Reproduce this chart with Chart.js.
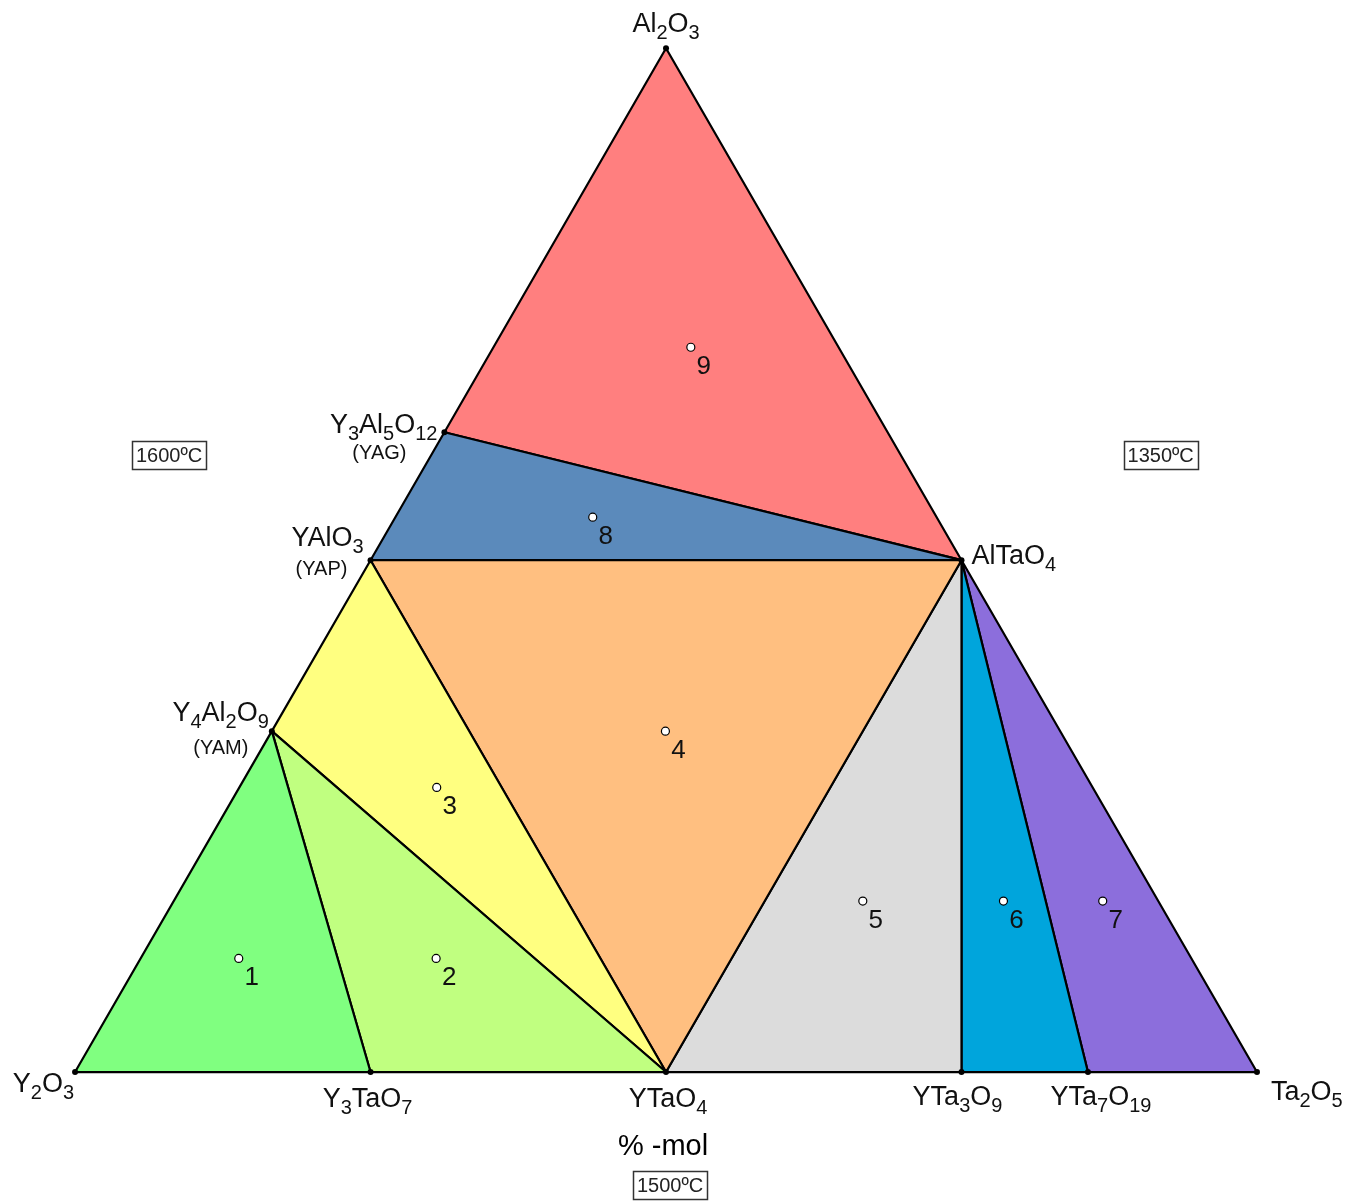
<!DOCTYPE html>
<html>
<head>
<meta charset="utf-8">
<title>Diagrama Y2O3 - Al2O3 - Ta2O5</title>
<script src="https://cdn.jsdelivr.net/npm/chart.js@4/dist/chart.umd.min.js"></script>
<style>
  html, body { margin: 0; padding: 0; background: #fff; }
  canvas { display: block; }
</style>
</head>
<body>
<canvas id="ternario" width="1365" height="1201"></canvas>
<script>
// Compuestos del diagrama: fraccion molar de Al2O3 y Ta2O5 (el resto es Y2O3)
const compounds = ["Y2O3", "Y3TaO7", "YTaO4", "YTa3O9", "YTa7O19", "Ta2O5", "AlTaO4", "Al2O3", "Y3Al5O12", "YAlO3", "Y4Al2O9"];
const molAl2O3 = [0, 0, 0, 0, 0, 0, 0.5, 1, 0.625, 0.5, 0.333];
const molTa2O5 = [0, 0.25, 0.5, 0.75, 0.857, 1, 0.5, 0, 0, 0, 0];

// Abreviaturas bajo algunos compuestos
const shortNames = { Y3Al5O12: "(YAG)", YAlO3: "(YAP)", Y4Al2O9: "(YAM)" };

// Triangulos de compatibilidad (campos de fases)
const regionLabels = ["1", "2", "3", "4", "5", "6", "7", "8", "9"];
const regionVertices = [
  ["Y2O3", "Y4Al2O9", "Y3TaO7"],
  ["Y4Al2O9", "Y3TaO7", "YTaO4"],
  ["Y4Al2O9", "YAlO3", "YTaO4"],
  ["YAlO3", "AlTaO4", "YTaO4"],
  ["YTaO4", "YTa3O9", "AlTaO4"],
  ["YTa3O9", "YTa7O19", "AlTaO4"],
  ["YTa7O19", "Ta2O5", "AlTaO4"],
  ["YAlO3", "Y3Al5O12", "AlTaO4"],
  ["Y3Al5O12", "Al2O3", "AlTaO4"],
];
const regionColors = ["#80ff80", "#c0ff80", "#ffff80", "#ffbf80", "#dcdcdc", "#00a5dc", "#8c6edc", "#5b8abb", "#ff7f7f"];

// Muestras (circulos blancos numerados)
const sampleAl2O3 = [0.111, 0.111, 0.278, 0.333, 0.167, 0.167, 0.167, 0.542, 0.708];
const sampleTa2O5 = [0.083, 0.25, 0.167, 0.333, 0.583, 0.702, 0.786, 0.167, 0.167];

// Temperaturas de los lados
const tempLabels = ["1600ºC", "1350ºC", "1500ºC"];
const axisLabel = "% -mol";

// Posicion de los textos respecto a cada vertice (px)
const labelLayout = {
  Y2O3: { align: "right", dx: -1, dy: 20 },
  Y3TaO7: { align: "center", dx: -3, dy: 35 },
  YTaO4: { align: "center", dx: 2, dy: 35 },
  YTa3O9: { align: "center", dx: -4, dy: 33 },
  YTa7O19: { align: "center", dx: 13, dy: 33 },
  Ta2O5: { align: "left", dx: 14, dy: 28 },
  AlTaO4: { align: "left", dx: 10, dy: 4 },
  Al2O3: { align: "center", dx: 0, dy: -16 },
  Y3Al5O12: { align: "right", dx: -7, dy: 1, sub: { dx: -65, dy: 27 } },
  YAlO3: { align: "right", dx: -7, dy: -14, sub: { dx: -49, dy: 15 } },
  Y4Al2O9: { align: "right", dx: -3, dy: -10, sub: { dx: -51, dy: 23 } },
};

const FONT = "'Liberation Sans', Arial, sans-serif";
const SQ3 = Math.sqrt(3) / 2;

// coordenadas cartesianas a partir de la composicion
const toXY = (al, ta) => ({ x: ta + al / 2, y: al * SQ3 });
const compoundPoint = (name) => {
  const i = compounds.indexOf(name);
  return toXY(molAl2O3[i], molTa2O5[i]);
};

const datasets = [];

regionVertices.forEach((verts, i) => {
  const pts = verts.map(compoundPoint);
  pts.push(pts[0]);
  datasets.push({
    label: "Campo " + regionLabels[i],
    data: pts,
    order: 3,
    showLine: true,
    fill: "shape",
    backgroundColor: regionColors[i],
    borderColor: "#000",
    borderWidth: 2.2,
    borderJoinStyle: "round",
    pointRadius: 0,
  });
});

// puntos de los compuestos
datasets.push({
  label: "Compuestos",
  data: compounds.map(compoundPoint),
  order: 2,
  pointRadius: 3,
  pointBackgroundColor: "#000",
  pointBorderColor: "#000",
  pointBorderWidth: 0,
});

// muestras
datasets.push({
  label: "Muestras",
  data: sampleAl2O3.map((al, i) => toXY(al, sampleTa2O5[i])),
  order: 1,
  pointRadius: 4,
  pointBackgroundColor: "#fff",
  pointBorderColor: "#000",
  pointBorderWidth: 1.2,
});

// Dibuja una formula con los numeros como subindices
function drawFormula(ctx, text, x, y, align, size) {
  const subSize = Math.round(size * 0.74);
  const parts = text.match(/[^0-9]+|[0-9]+/g);
  let total = 0;
  const widths = parts.map((p) => {
    ctx.font = (/[0-9]/.test(p) ? subSize : size) + "px " + FONT;
    const w = ctx.measureText(p).width;
    total += w;
    return w;
  });
  let cx = x;
  if (align === "center") cx = x - total / 2;
  if (align === "right") cx = x - total;
  ctx.textAlign = "left";
  ctx.textBaseline = "alphabetic";
  parts.forEach((p, k) => {
    const isSub = /[0-9]/.test(p);
    ctx.font = (isSub ? subSize : size) + "px " + FONT;
    ctx.fillText(p, cx, isSub ? y + Math.round(size * 0.26) : y);
    cx += widths[k];
  });
}

const textPlugin = {
  id: "textos",
  afterDatasetsDraw(chart) {
    const ctx = chart.ctx;
    const xs = chart.scales.x;
    const ys = chart.scales.y;
    ctx.save();
    ctx.fillStyle = "#111";

    // nombres de los compuestos
    compounds.forEach((name) => {
      const p = compoundPoint(name);
      const px = xs.getPixelForValue(p.x);
      const py = ys.getPixelForValue(p.y);
      const lay = labelLayout[name];
      drawFormula(ctx, name, px + lay.dx, py + lay.dy, lay.align, 27);
      if (lay.sub) {
        ctx.font = "20px " + FONT;
        ctx.textAlign = "center";
        ctx.fillText(shortNames[name], px + lay.sub.dx, py + lay.sub.dy);
      }
    });

    // numeros de las muestras
    ctx.font = "26px " + FONT;
    ctx.textAlign = "center";
    sampleAl2O3.forEach((al, i) => {
      const p = toXY(al, sampleTa2O5[i]);
      const px = xs.getPixelForValue(p.x);
      const py = ys.getPixelForValue(p.y);
      ctx.fillText(regionLabels[i], px + 13, py + 27);
    });

    // etiqueta del eje
    const mid = compoundPoint("YTaO4");
    const mx = xs.getPixelForValue(mid.x);
    const my = ys.getPixelForValue(mid.y);
    ctx.font = "29px " + FONT;
    ctx.fillStyle = "#000";
    ctx.fillText(axisLabel, mx - 3, my + 83);

    // cajas de temperatura
    const boxes = [
      { x: xs.getPixelForValue(0.0795), y: ys.getPixelForValue(0.522) },
      { x: xs.getPixelForValue(0.9185), y: ys.getPixelForValue(0.522) },
      { x: mx + 4, y: my + 113 },
    ];
    ctx.font = "20px " + FONT;
    ctx.textBaseline = "middle";
    boxes.forEach((b, i) => {
      ctx.strokeStyle = "#333";
      ctx.lineWidth = 1.5;
      ctx.strokeRect(Math.round(b.x - 37) + 0.5, Math.round(b.y - 14) + 0.5, 74, 28);
      ctx.fillStyle = "#222";
      ctx.fillText(tempLabels[i], b.x, b.y + 1);
    });
    ctx.restore();
  },
};

new Chart("ternario", {
  type: "scatter",
  data: { datasets: datasets },
  options: {
    responsive: false,
    animation: false,
    layout: { padding: 0, autoPadding: false },
    scales: {
      x: { type: "linear", display: false, min: -0.0635, max: 1.0914 },
      y: { type: "linear", display: false, min: -0.1091, max: 0.9069 },
    },
    plugins: {
      legend: { display: false },
      tooltip: { enabled: false },
    },
  },
  plugins: [textPlugin],
});
</script>
</body>
</html>
